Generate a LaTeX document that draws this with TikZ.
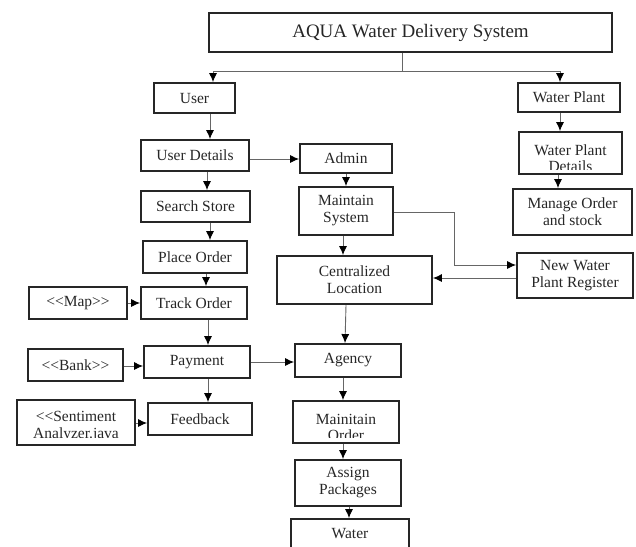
\documentclass[tikz,border=0pt]{standalone}
\usepackage{fontspec}
\setmainfont{Liberation Serif}
\usetikzlibrary{arrows.meta}

\tikzset{
    box/.style={draw=black!85, line width=1.9pt, align=center, inner sep=2pt,
        text=black!85, font=\fontsize{15.5}{17}\selectfont},
    cuttext/.style={align=center, inner sep=0pt, text=black!85,
        font=\fontsize{15.5}{16.5}\selectfont},
    conn/.style={draw=black!60, line width=0.9pt,
        -{Latex[length=9pt,width=8pt,color=black]}},
}

\begin{document}
\begin{tikzpicture}[x=1pt, y=-1pt]
    \useasboundingbox (0,0) rectangle (636,546);

    \node[box, minimum width=403, minimum height=39, font=\fontsize{19}{22}\selectfont] (title) at (410.5,32.5) {AQUA Water Delivery System};

    % user side
    \node[box, minimum width=81, minimum height=30] (user) at (194.5,98) {User};
    \node[box, minimum width=108, minimum height=31] (details) at (195,155.5) {User Details};
    \node[box, minimum width=109, minimum height=31] (search) at (195.5,206.5) {Search Store};
    \node[box, minimum width=104, minimum height=32] (place) at (195,257) {Place Order};
    \node[box, minimum width=106, minimum height=32] (track) at (194,303) {Track Order};
    \node[box, minimum width=98, minimum height=32] (map) at (78,303) {<{}<Map>{}>};
    \node[box, minimum width=106, minimum height=32] (payment) at (197,362) {Payment};
    \node[box, minimum width=95, minimum height=32] (bank) at (75.5,365) {<{}<Bank>{}>};
    \node[box, minimum width=104, minimum height=32] (feedback) at (200,419) {Feedback};
    \node[box, minimum width=118, minimum height=45] (sentiment) at (76,422.5) {};

    % admin side
    \node[box, minimum width=92, minimum height=29] (admin) at (346,158.5) {Admin};
    \node[box, minimum width=94, minimum height=48] (maintain) at (346,211) {Maintain\\System};
    \node[box, minimum width=155, minimum height=48] (central) at (354.5,280) {Centralized\\Location};
    \node[box, minimum width=106, minimum height=33] (agency) at (348,360.5) {Agency};
    \node[box, minimum width=106, minimum height=42] (order) at (346,422) {};
    \node[box, minimum width=106, minimum height=46] (assign) at (348,483) {Assign\\Packages};
    \node[box, minimum width=118, minimum height=30] (water) at (350,534) {Water};

    % water plant side
    \node[box, minimum width=102, minimum height=29] (plant) at (569,97.5) {Water Plant};
    \node[box, minimum width=103, minimum height=42] (plantdet) at (570.5,153) {};
    \node[box, minimum width=119, minimum height=46] (manage) at (572.5,212) {Manage Order\\and stock};
    \node[box, minimum width=116, minimum height=45] (register) at (575,275.5) {New Water\\Plant Register};

    % texts cut off by their boxes
    \begin{scope}
        \clip (521,134) rectangle (620,169);
        \node[cuttext] at (570.5,158) {Water Plant\\Details};
    \end{scope}
    \begin{scope}
        \clip (295,403) rectangle (397,437);
        \node[cuttext] at (346,427.5) {Mainitain\\Order};
    \end{scope}
    \begin{scope}
        \clip (19,402) rectangle (133,437);
        \node[cuttext] at (76,426.5) {<{}<Sentiment\\Analyzer.java};
    \end{scope}

    \coordinate (split) at (402,71);
    \draw[conn] (title.south -| split) -- (split) -| (user.north -| 213,0);
    \draw[conn] (split) -| (plant.north -| 560,0);

    \draw[conn] (user.south -| 210,0) -- (details.north -| 210,0);
    \draw[conn] (details.south -| 207,0) -- (search.north -| 207,0);
    \draw[conn] (search.south -| 210,0) -- (place.north -| 210,0);
    \draw[conn] (place.south -| 206,0) -- (track.north -| 206,0);
    \draw[conn] (track.south -| 208,0) -- (payment.north -| 208,0);
    \draw[conn] (payment.south -| 208,0) -- (feedback.north -| 208,0);
    \draw[conn] (map.east |- 0,303) -- (track.west |- 0,303);
    \draw[conn] (bank.east |- 0,366) -- (payment.west |- 0,366);
    \draw[conn] (sentiment.east |- 0,423) -- (feedback.west |- 0,423);

    \draw[conn] (details.east |- 0,159) -- (admin.west |- 0,159);
    \draw[conn] (payment.east |- 0,362) -- (agency.west |- 0,362);
    \draw[conn] (admin.south -| 346,0) -- (maintain.north -| 346,0);
    \draw[conn] (maintain.south -| 343,0) -- (central.north -| 343,0);
    \draw[conn] (maintain.east |- 0,212) -- (454,212) |- (register.west |- 0,265);
    \draw[conn] (register.west |- 0,278) -- (central.east |- 0,278);
    \draw[conn] (central.south -| 346,0) -- (agency.north -| 345,0);
    \draw[conn] (agency.south -| 343,0) -- (order.north -| 343,0);
    \draw[conn] (order.south -| 343,0) -- (assign.north -| 343,0);
    \draw[conn] (assign.south -| 349,0) -- (water.north -| 349,0);

    \draw[conn] (plant.south -| 560,0) -- (plantdet.north -| 560,0);
    \draw[conn] (plantdet.south -| 558,0) -- (manage.north -| 558,0);
\end{tikzpicture}
\end{document}
